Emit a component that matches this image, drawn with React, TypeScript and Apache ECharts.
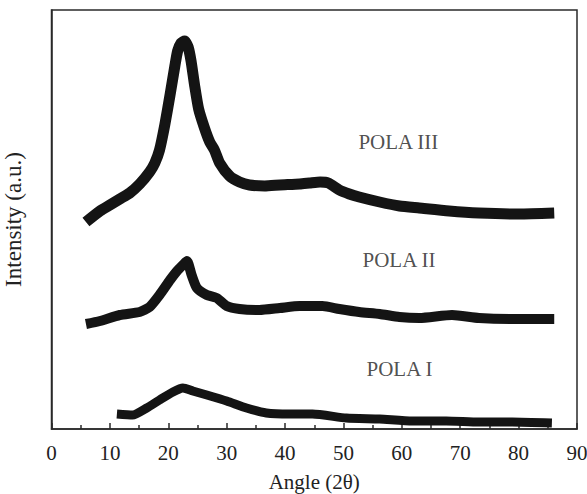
import React, { useEffect, useRef } from "react";
import * as echarts from "echarts";

// POLA III (top curve)
const angleIII = [5.9, 8.3, 10.0, 11.7, 13.4, 15.1, 16.8, 17.7, 18.5, 19.4, 20.3, 21.1, 21.6, 22.2, 22.8, 23.4, 23.9, 24.5, 25.2, 26.2, 27.1, 27.9, 28.8, 30.5, 32.2, 33.9, 36.5, 39.1, 42.5, 44.2, 46.0, 47.4, 49.3, 51.0, 52.7, 56.2, 59.6, 63.0, 68.1, 73.2, 80.1, 86.1];
const intensityIII = [207, 218, 224, 230, 236, 245, 257, 266, 279, 304, 334, 362, 378, 386, 388, 382, 368, 344, 320, 301, 287, 279, 266, 253, 247, 244, 243, 244, 245, 246, 247, 246, 239, 235, 232, 227, 223, 221, 218, 216, 215, 216];

// POLA II (middle curve)
const angleII = [5.9, 8.3, 11.7, 15.1, 16.8, 18.5, 20.3, 21.5, 22.5, 23.2, 24.0, 24.9, 26.6, 28.3, 30.0, 32.2, 35.6, 39.1, 42.5, 46.4, 49.3, 52.7, 56.2, 59.6, 63.0, 68.6, 73.2, 78.9, 86.1];
const intensityII = [105, 108, 114, 117, 122, 134, 149, 158, 164, 168, 154, 141, 134, 131, 123, 120, 119, 121, 123, 123, 120, 117, 115, 112, 111, 114, 111, 110, 110];

// POLA I (bottom curve)
const angleI = [11.2, 13.9, 16.3, 18.5, 20.8, 22.5, 24.2, 26.6, 30.0, 33.4, 36.8, 40.8, 44.7, 50.5, 56.2, 61.8, 67.6, 73.2, 78.9, 85.7];
const intensityI = [15, 14, 21, 29, 37, 41, 38, 34, 28, 21, 16, 15, 15, 11, 10, 8, 8, 7, 7, 6];

// Curve labels
const labelNames = ["POLA III", "POLA II", "POLA I"];
const labelAngles = [59.4, 59.5, 59.6];
const labelValues = [287, 169, 60];

const xMin = 0;
const xMax = 90;
const xInterval = 10;
const yMin = 0;
const yMax = 419;

const FONT = "'Liberation Serif', 'Times New Roman', Times, serif";
const zip = (a: number[], b: number[]) => a.map((v, i) => [v, b[i]]);

export default function App() {
  const ref = useRef<HTMLDivElement>(null);
  useEffect(() => {
    if (!ref.current) return;
    const chart = echarts.init(ref.current, null, { renderer: "svg" });
    const curve = (name: string, data: number[][], w: number) => ({
      name,
      type: "line",
      data,
      showSymbol: false,
      symbol: "none",
      smooth: 0.2,
      lineStyle: { color: "#141414", width: w, join: "round", cap: "butt" },
      silent: true,
    });
    chart.setOption({
      animation: false,
      textStyle: { fontFamily: FONT },
      grid: {
        left: 51.5,
        right: 10,
        top: 10,
        bottom: 65,
        outerBoundsMode: "none",
        containLabel: false,
        show: true,
        borderColor: "#2a2a2a",
        borderWidth: 1.5,
        backgroundColor: "transparent",
      },
      xAxis: {
        type: "value",
        min: xMin,
        max: xMax,
        interval: xInterval,
        name: "Angle (2θ)",
        nameLocation: "middle",
        nameGap: 42,
        nameTextStyle: { fontFamily: FONT, fontSize: 21, color: "#222" },
        axisLine: { show: true, onZero: false, lineStyle: { color: "#2a2a2a", width: 1.5 } },
        axisTick: { show: true, inside: true, length: 6, lineStyle: { color: "#2a2a2a", width: 1.5 } },
        minorTick: { show: true, splitNumber: 2, length: 4, lineStyle: { color: "#2a2a2a", width: 1.5 } },
        splitLine: { show: false },
        axisLabel: { fontFamily: FONT, fontSize: 21, color: "#222", margin: 13 },
      },
      yAxis: {
        type: "value",
        min: yMin,
        max: yMax,
        name: "Intensity (a.u.)",
        nameLocation: "middle",
        nameGap: 27,
        nameRotate: 90,
        nameTextStyle: { fontFamily: FONT, fontSize: 23, color: "#222" },
        axisLine: { show: true, lineStyle: { color: "#2a2a2a", width: 1.5 } },
        axisTick: { show: false },
        axisLabel: { show: false },
        splitLine: { show: false },
      },
      series: [
        curve("POLA III", zip(angleIII, intensityIII), 11),
        curve("POLA II", zip(angleII, intensityII), 10),
        curve("POLA I", zip(angleI, intensityI), 9),
        {
          name: "labels",
          type: "scatter",
          symbolSize: 0,
          silent: true,
          data: labelNames.map((n, i) => ({ name: n, value: [labelAngles[i], labelValues[i]] })),
          label: {
            show: true,
            position: "inside",
            formatter: "{b}",
            fontFamily: FONT,
            fontSize: 21,
            color: "#222",
          },
        },
      ],
    });
    return () => chart.dispose();
  }, []);
  return (
    <div
      ref={ref}
      style={{ position: "fixed", left: 0, top: 0, width: 587, height: 494, background: "#fff" }}
    />
  );
}
